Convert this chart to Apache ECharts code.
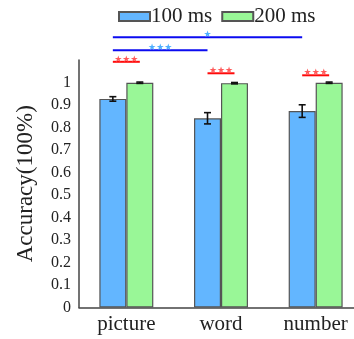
<!DOCTYPE html>
<html>
<head>
<meta charset="utf-8">
<script src="https://cdn.jsdelivr.net/npm/echarts@6/dist/echarts.min.js"></script>
<style>
  html, body { margin: 0; padding: 0; background: #fff; overflow: hidden; }
  #chart { width: 363px; height: 339px; }
</style>
</head>
<body>
<div id="chart"></div>
<script>
// Recognition accuracy by stimulus type and presentation duration
const categories = ['picture', 'word', 'number'];
const seriesNames = ['100 ms', '200 ms'];
const acc100 = [0.927, 0.841, 0.873];
const acc200 = [0.999, 0.997, 0.999];
const err100 = [0.010, 0.025, 0.028];
const err200 = [0.003, 0.003, 0.003];
const yTicks = [0, 0.1, 0.2, 0.3, 0.4, 0.5, 0.6, 0.7, 0.8, 0.9, 1];

// Significance brackets: [fromCategory, fromSeries, toCategory, toSeries, height, label]
const brackets = [
  [0, 0, 2, 0, 1.201, '★'],
  [0, 0, 1, 0, 1.143, '★★★'],
  [0, 0, 0, 1, 1.092, '★★★'],
  [1, 0, 1, 1, 1.041, '★★★'],
  [2, 0, 2, 1, 1.032, '★★★']
];

const SERIF = '"Liberation Serif", "Times New Roman", serif';
const CAT_GAP = 0.43;
const bracketLine = { between: '#0b0bf0', within: '#ff0a0a' };
const bracketStar = { between: '#4fb0ff', within: '#ff5a5a' };

function barOffset(api, s) {
  const band = api.size([1, 0])[0];
  const w = band * (1 - CAT_GAP) / 2;
  return (s - 0.5) * w;
}

const chart = echarts.init(document.getElementById('chart'), null, { renderer: 'canvas' });

function errorSeries(s, means, errs) {
  return {
    type: 'custom',
    z: 5,
    silent: true,
    data: means.map((m, i) => [i, m, errs[i]]),
    renderItem: function (params, api) {
      const i = api.value(0), m = api.value(1), e = api.value(2);
      const dx = barOffset(api, s);
      const hi = api.coord([i, m + e]);
      const lo = api.coord([i, m - e]);
      const x = hi[0] + dx;
      const cap = 3.5;
      const st = { stroke: '#111', lineWidth: 1.6 };
      return {
        type: 'group',
        children: [
          { type: 'line', shape: { x1: x, y1: hi[1], x2: x, y2: lo[1] }, style: st },
          { type: 'line', shape: { x1: x - cap, y1: hi[1], x2: x + cap, y2: hi[1] }, style: st },
          { type: 'line', shape: { x1: x - cap, y1: lo[1], x2: x + cap, y2: lo[1] }, style: st }
        ]
      };
    }
  };
}

chart.setOption({
  animation: false,
  legend: {
    top: 6,
    left: 118,
    padding: 0,
    itemWidth: 31,
    itemHeight: 9,
    itemGap: 9,
    icon: 'rect',
    data: seriesNames,
    textStyle: { fontFamily: SERIF, fontSize: 21, color: '#222', padding: [0, 0, 0, -4] }
  },
  grid: { left: 79, top: 60, bottom: 31.5, right: 0, containLabel: false },
  xAxis: {
    type: 'category',
    data: categories,
    axisLine: { lineStyle: { color: '#444', width: 1.5 } },
    axisTick: { show: false },
    axisLabel: { fontFamily: SERIF, fontSize: 21, color: '#222', margin: 6 }
  },
  yAxis: {
    type: 'value',
    min: 0,
    max: 1.1,
    interval: 0.1,
    name: 'Accuracy(100%)',
    nameLocation: 'middle',
    nameGap: 42,
    nameTextStyle: { fontFamily: SERIF, fontSize: 23, color: '#222' },
    axisLine: { show: true, lineStyle: { color: '#444', width: 1.5 } },
    axisTick: { show: false },
    splitLine: { show: false },
    axisLabel: {
      fontFamily: SERIF, fontSize: 16, color: '#222', margin: 8,
      formatter: function (v) {
        const t = yTicks.find(k => Math.abs(k - v) < 1e-6);
        return t === undefined ? '' : String(t);
      }
    }
  },
  series: [
    {
      name: seriesNames[0], type: 'bar', data: acc100,
      barGap: '0%', barCategoryGap: (CAT_GAP * 100) + '%',
      itemStyle: { color: '#63b6ff', borderColor: '#555', borderWidth: 1.2 }
    },
    {
      name: seriesNames[1], type: 'bar', data: acc200,
      barGap: '0%', barCategoryGap: (CAT_GAP * 100) + '%',
      itemStyle: { color: '#99f797', borderColor: '#555', borderWidth: 1.2 }
    },
    errorSeries(0, acc100, err100),
    errorSeries(1, acc200, err200),
    {
      type: 'custom',
      z: 6,
      silent: true,
      clip: false,
      data: brackets.map(b => b.slice(0, 5)),
      renderItem: function (params, api) {
        const b = brackets[params.dataIndex];
        const h = api.value(4);
        const p1 = api.coord([api.value(0), h]);
        const p2 = api.coord([api.value(2), h]);
        const x1 = p1[0] + barOffset(api, api.value(1));
        const x2 = p2[0] + barOffset(api, api.value(3));
        const kind = b[0] === b[2] ? 'within' : 'between';
        return {
          type: 'group',
          children: [
            { type: 'line', shape: { x1: x1, y1: p1[1], x2: x2, y2: p2[1] },
              style: { stroke: bracketLine[kind], lineWidth: 2 } },
            { type: 'text', x: (x1 + x2) / 2, y: p1[1] + 2,
              style: { text: b[5], fill: bracketStar[kind], font: '9px "DejaVu Sans"',
                       textAlign: 'center', textVerticalAlign: 'bottom' } }
          ]
        };
      }
    }
  ]
});
</script>
</body>
</html>
